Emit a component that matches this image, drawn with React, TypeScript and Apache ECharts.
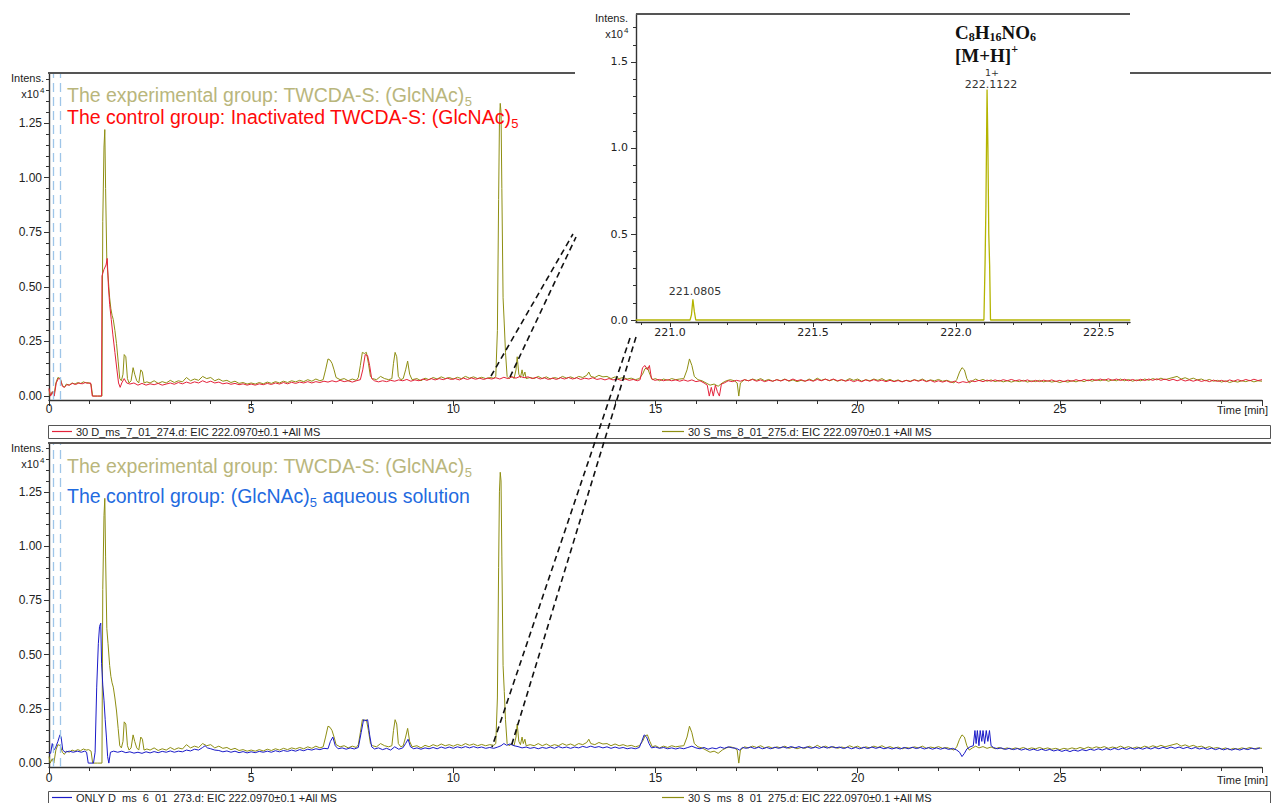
import React, { useEffect, useRef } from 'react';
import * as echarts from 'echarts';

// ---------------- data (intensities in units of 10^4) ----------------
// experimental group, 30 S_ms_8_01_275.d  [time min, intensity]
const EXP_S8: [number, number][] = [
  [0, 0.03], [0.03, 0], [0.08, 0.02], [0.12, 0], [0.17, 0.06], [0.22, 0.085], [0.28, 0.08], [0.33, 0.05], [0.38, 0.04], [0.43, 0.055],
  [0.5, 0.05], [0.57, 0.06], [0.64, 0.055], [0.71, 0.062], [0.78, 0.057], [0.85, 0.065], [0.92, 0.06], [0.98, 0.062], [1.04, 0.055], [1.08, 0],
  [1.2, 0], [1.31, 0], [1.33, 0.8], [1.36, 1.14], [1.38, 1.22], [1.4, 0.95], [1.43, 0.62], [1.46, 0.55], [1.5, 0.45], [1.53, 0.4],
  [1.56, 0.37], [1.59, 0.35], [1.63, 0.3], [1.67, 0.24], [1.71, 0.16], [1.75, 0.08], [1.79, 0.07], [1.83, 0.1], [1.86, 0.19], [1.9, 0.18],
  [1.94, 0.08], [1.98, 0.06], [2.03, 0.07], [2.08, 0.13], [2.12, 0.1], [2.17, 0.07], [2.22, 0.06], [2.27, 0.12], [2.31, 0.11], [2.35, 0.06],
  [2.42, 0.065], [2.5, 0.06], [2.6, 0.07], [2.7, 0.058], [2.8, 0.066], [2.9, 0.06], [3.0, 0.072], [3.1, 0.062], [3.2, 0.07], [3.3, 0.065],
  [3.4, 0.085], [3.5, 0.07], [3.6, 0.078], [3.7, 0.072], [3.8, 0.09], [3.9, 0.08], [4.0, 0.085], [4.1, 0.07], [4.2, 0.078], [4.3, 0.068],
  [4.4, 0.072], [4.5, 0.062], [4.6, 0.068], [4.7, 0.058], [4.8, 0.062], [4.9, 0.055], [5.0, 0.06], [5.1, 0.055], [5.2, 0.062], [5.3, 0.056],
  [5.4, 0.064], [5.5, 0.058], [5.6, 0.066], [5.7, 0.06], [5.8, 0.068], [5.9, 0.062], [6.0, 0.07], [6.1, 0.065], [6.2, 0.072], [6.3, 0.066],
  [6.4, 0.075], [6.5, 0.068], [6.6, 0.078], [6.7, 0.07], [6.78, 0.075], [6.84, 0.12], [6.9, 0.17], [6.95, 0.165], [7.0, 0.15], [7.05, 0.12],
  [7.1, 0.085], [7.2, 0.075], [7.3, 0.08], [7.4, 0.07], [7.5, 0.078], [7.6, 0.072], [7.65, 0.085], [7.7, 0.14], [7.75, 0.2], [7.8, 0.195],
  [7.85, 0.2], [7.9, 0.15], [7.95, 0.09], [8.0, 0.08], [8.1, 0.075], [8.2, 0.09], [8.3, 0.08], [8.4, 0.075], [8.48, 0.08], [8.52, 0.15],
  [8.56, 0.2], [8.6, 0.18], [8.64, 0.09], [8.7, 0.075], [8.76, 0.08], [8.82, 0.12], [8.87, 0.16], [8.92, 0.1], [8.98, 0.075], [9.1, 0.08],
  [9.2, 0.07], [9.3, 0.082], [9.4, 0.075], [9.5, 0.085], [9.6, 0.078], [9.7, 0.088], [9.8, 0.08], [9.9, 0.085], [10.0, 0.078], [10.1, 0.086],
  [10.2, 0.08], [10.3, 0.09], [10.4, 0.082], [10.5, 0.088], [10.6, 0.08], [10.7, 0.086], [10.8, 0.08], [10.9, 0.085], [11.0, 0.082], [11.05, 0.09],
  [11.09, 0.3], [11.12, 0.9], [11.14, 1.25], [11.16, 1.34], [11.18, 1.3], [11.2, 0.95], [11.23, 0.45], [11.26, 0.33], [11.29, 0.2], [11.33, 0.09],
  [11.38, 0.08], [11.45, 0.09], [11.5, 0.08], [11.55, 0.12], [11.58, 0.18], [11.62, 0.1], [11.66, 0.085], [11.7, 0.12], [11.73, 0.09], [11.77, 0.11],
  [11.8, 0.08], [11.9, 0.085], [12.0, 0.08], [12.1, 0.09], [12.2, 0.08], [12.3, 0.088], [12.4, 0.078], [12.5, 0.085], [12.6, 0.08], [12.7, 0.09],
  [12.8, 0.082], [12.9, 0.088], [13.0, 0.08], [13.1, 0.09], [13.2, 0.085], [13.3, 0.095], [13.35, 0.11], [13.4, 0.09], [13.5, 0.085], [13.6, 0.095],
  [13.7, 0.088], [13.8, 0.09], [13.9, 0.08], [14.0, 0.088], [14.1, 0.08], [14.2, 0.085], [14.3, 0.078], [14.4, 0.082], [14.5, 0.075], [14.6, 0.08],
  [14.68, 0.1], [14.74, 0.125], [14.8, 0.13], [14.86, 0.1], [14.92, 0.075], [15.0, 0.08], [15.1, 0.07], [15.2, 0.078], [15.3, 0.072], [15.4, 0.08],
  [15.5, 0.075], [15.6, 0.078], [15.7, 0.08], [15.78, 0.12], [15.84, 0.17], [15.9, 0.14], [15.96, 0.09], [16.05, 0.075], [16.15, 0.07], [16.25, 0.06],
  [16.35, 0.05], [16.45, 0.055], [16.55, 0.045], [16.65, 0.06], [16.75, 0.07], [16.85, 0.075], [16.95, 0.07], [17.02, 0.06], [17.06, 0.0], [17.1, 0.06],
  [17.2, 0.075], [17.3, 0.07], [17.4, 0.078], [17.5, 0.072], [17.6, 0.08], [17.7, 0.07], [17.8, 0.076], [17.9, 0.068], [18.0, 0.075], [18.1, 0.07],
  [18.2, 0.078], [18.3, 0.068], [18.4, 0.074], [18.5, 0.066], [18.6, 0.072], [18.7, 0.068], [18.8, 0.078], [18.9, 0.07], [19.0, 0.082], [19.1, 0.072],
  [19.2, 0.078], [19.3, 0.07], [19.4, 0.076], [19.5, 0.068], [19.6, 0.074], [19.7, 0.07], [19.8, 0.08], [19.9, 0.072], [20.0, 0.078], [20.1, 0.068],
  [20.2, 0.075], [20.3, 0.07], [20.4, 0.078], [20.5, 0.072], [20.6, 0.08], [20.7, 0.07], [20.8, 0.076], [20.9, 0.068], [21.0, 0.074], [21.1, 0.066],
  [21.2, 0.072], [21.3, 0.068], [21.4, 0.075], [21.5, 0.07], [21.6, 0.078], [21.7, 0.068], [21.8, 0.074], [21.9, 0.07], [22.0, 0.076], [22.1, 0.068],
  [22.2, 0.072], [22.3, 0.066], [22.38, 0.06], [22.45, 0.075], [22.52, 0.11], [22.58, 0.13], [22.64, 0.12], [22.7, 0.08], [22.76, 0.06], [22.84, 0.07],
  [22.92, 0.078], [23.0, 0.07], [23.1, 0.076], [23.2, 0.068], [23.3, 0.074], [23.4, 0.066], [23.5, 0.072], [23.6, 0.065], [23.7, 0.07], [23.8, 0.064],
  [23.9, 0.07], [24.0, 0.066], [24.1, 0.072], [24.2, 0.064], [24.3, 0.07], [24.4, 0.066], [24.5, 0.072], [24.6, 0.065], [24.7, 0.07], [24.8, 0.064],
  [24.9, 0.068], [25.0, 0.062], [25.1, 0.068], [25.2, 0.064], [25.3, 0.07], [25.4, 0.065], [25.5, 0.072], [25.6, 0.066], [25.7, 0.074], [25.8, 0.068],
  [25.9, 0.075], [26.0, 0.07], [26.1, 0.076], [26.2, 0.068], [26.3, 0.074], [26.4, 0.07], [26.5, 0.078], [26.6, 0.07], [26.7, 0.076], [26.8, 0.068],
  [26.9, 0.074], [27.0, 0.07], [27.1, 0.078], [27.2, 0.072], [27.3, 0.08], [27.4, 0.074], [27.5, 0.082], [27.6, 0.075], [27.7, 0.08], [27.8, 0.085],
  [27.9, 0.09], [28.0, 0.078], [28.1, 0.084], [28.2, 0.076], [28.3, 0.082], [28.4, 0.074], [28.5, 0.078], [28.6, 0.07], [28.7, 0.076], [28.8, 0.068],
  [28.9, 0.072], [29.0, 0.064], [29.1, 0.07], [29.2, 0.062], [29.3, 0.068], [29.4, 0.064], [29.5, 0.07], [29.6, 0.066], [29.7, 0.072], [29.8, 0.065],
  [29.9, 0.07], [30.0, 0.068],
];

// control group (inactivated), 30 D_ms_7_01_274.d
const CTRL_D7: [number, number][] = [
  [0, 0.035], [0.04, 0.0], [0.09, 0.02], [0.13, 0], [0.18, 0.06], [0.23, 0.08], [0.28, 0.078], [0.33, 0.045], [0.38, 0.04], [0.44, 0.052],
  [0.5, 0.05], [0.58, 0.058], [0.66, 0.053], [0.74, 0.06], [0.82, 0.056], [0.9, 0.062], [0.97, 0.058], [1.03, 0.06], [1.07, 0], [1.2, 0],
  [1.3, 0], [1.31, 0.55], [1.36, 0.58], [1.41, 0.6], [1.44, 0.63], [1.47, 0.5], [1.5, 0.42], [1.54, 0.35], [1.58, 0.28], [1.63, 0.2],
  [1.68, 0.12], [1.72, 0.06], [1.76, 0.04], [1.8, 0.06], [1.86, 0.08], [1.92, 0.06], [2.0, 0.055], [2.1, 0.06], [2.2, 0.05], [2.3, 0.058],
  [2.4, 0.05], [2.5, 0.056], [2.6, 0.052], [2.7, 0.058], [2.8, 0.05], [2.9, 0.055], [3.0, 0.06], [3.1, 0.054], [3.2, 0.062], [3.3, 0.056],
  [3.4, 0.064], [3.5, 0.058], [3.6, 0.065], [3.7, 0.06], [3.8, 0.07], [3.9, 0.062], [4.0, 0.068], [4.1, 0.06], [4.2, 0.064], [4.3, 0.056],
  [4.4, 0.06], [4.5, 0.054], [4.6, 0.058], [4.7, 0.052], [4.8, 0.056], [4.9, 0.05], [5.0, 0.055], [5.1, 0.05], [5.2, 0.056], [5.3, 0.052],
  [5.4, 0.058], [5.5, 0.053], [5.6, 0.06], [5.7, 0.055], [5.8, 0.062], [5.9, 0.056], [6.0, 0.063], [6.1, 0.058], [6.2, 0.064], [6.3, 0.06],
  [6.4, 0.066], [6.5, 0.06], [6.6, 0.066], [6.7, 0.062], [6.8, 0.068], [6.9, 0.064], [7.0, 0.07], [7.1, 0.065], [7.2, 0.072], [7.3, 0.066],
  [7.4, 0.07], [7.5, 0.064], [7.6, 0.07], [7.7, 0.075], [7.76, 0.12], [7.82, 0.19], [7.88, 0.185], [7.93, 0.14], [7.98, 0.08], [8.05, 0.07],
  [8.15, 0.065], [8.25, 0.07], [8.35, 0.066], [8.45, 0.072], [8.55, 0.068], [8.65, 0.074], [8.75, 0.07], [8.85, 0.076], [8.95, 0.068], [9.05, 0.074],
  [9.15, 0.07], [9.25, 0.078], [9.35, 0.072], [9.45, 0.08], [9.55, 0.074], [9.65, 0.08], [9.75, 0.075], [9.85, 0.082], [9.95, 0.076], [10.05, 0.08],
  [10.15, 0.074], [10.25, 0.082], [10.35, 0.076], [10.45, 0.083], [10.55, 0.077], [10.65, 0.082], [10.75, 0.076], [10.85, 0.082], [10.95, 0.078], [11.05, 0.084],
  [11.15, 0.078], [11.25, 0.086], [11.35, 0.08], [11.45, 0.088], [11.55, 0.082], [11.65, 0.09], [11.75, 0.084], [11.85, 0.088], [11.95, 0.08], [12.05, 0.086],
  [12.15, 0.078], [12.25, 0.084], [12.35, 0.076], [12.45, 0.082], [12.55, 0.076], [12.65, 0.084], [12.75, 0.078], [12.85, 0.085], [12.95, 0.078], [13.05, 0.084],
  [13.15, 0.076], [13.25, 0.082], [13.35, 0.078], [13.45, 0.084], [13.55, 0.076], [13.65, 0.08], [13.75, 0.074], [13.85, 0.08], [13.95, 0.074], [14.05, 0.078],
  [14.15, 0.072], [14.25, 0.078], [14.35, 0.072], [14.45, 0.076], [14.55, 0.07], [14.62, 0.075], [14.68, 0.13], [14.74, 0.14], [14.8, 0.12], [14.85, 0.14],
  [14.9, 0.08], [14.98, 0.072], [15.1, 0.076], [15.2, 0.07], [15.3, 0.075], [15.4, 0.07], [15.5, 0.074], [15.6, 0.068], [15.7, 0.074], [15.8, 0.068],
  [15.9, 0.074], [16.0, 0.066], [16.1, 0.07], [16.2, 0.06], [16.28, 0.05], [16.33, 0.0], [16.38, 0.04], [16.43, 0.0], [16.48, 0.05], [16.53, 0.02],
  [16.58, 0.0], [16.63, 0.055], [16.7, 0.06], [16.8, 0.07], [16.9, 0.066], [17.0, 0.072], [17.1, 0.068], [17.2, 0.075], [17.3, 0.07], [17.4, 0.076],
  [17.5, 0.068], [17.6, 0.074], [17.7, 0.066], [17.8, 0.072], [17.9, 0.068], [18.0, 0.075], [18.1, 0.069], [18.2, 0.076], [18.3, 0.07], [18.4, 0.078],
  [18.5, 0.07], [18.6, 0.075], [18.7, 0.068], [18.8, 0.074], [18.9, 0.068], [19.0, 0.076], [19.1, 0.07], [19.2, 0.077], [19.3, 0.071], [19.4, 0.078],
  [19.5, 0.07], [19.6, 0.075], [19.7, 0.068], [19.8, 0.074], [19.9, 0.066], [20.0, 0.072], [20.1, 0.066], [20.2, 0.074], [20.3, 0.068], [20.4, 0.075],
  [20.5, 0.068], [20.6, 0.073], [20.7, 0.066], [20.8, 0.072], [20.9, 0.066], [21.0, 0.071], [21.1, 0.065], [21.2, 0.072], [21.3, 0.066], [21.4, 0.074],
  [21.5, 0.068], [21.6, 0.074], [21.7, 0.066], [21.8, 0.072], [21.9, 0.064], [22.0, 0.07], [22.1, 0.064], [22.2, 0.07], [22.3, 0.062], [22.4, 0.068],
  [22.5, 0.06], [22.6, 0.066], [22.7, 0.062], [22.8, 0.07], [22.9, 0.066], [23.0, 0.072], [23.1, 0.066], [23.2, 0.073], [23.3, 0.068], [23.4, 0.074],
  [23.5, 0.068], [23.6, 0.075], [23.7, 0.07], [23.8, 0.076], [23.9, 0.07], [24.0, 0.074], [24.1, 0.068], [24.2, 0.074], [24.3, 0.066], [24.4, 0.072],
  [24.5, 0.066], [24.6, 0.073], [24.7, 0.068], [24.8, 0.074], [24.9, 0.067], [25.0, 0.072], [25.1, 0.066], [25.2, 0.073], [25.3, 0.068], [25.4, 0.075],
  [25.5, 0.069], [25.6, 0.076], [25.7, 0.07], [25.8, 0.077], [25.9, 0.071], [26.0, 0.078], [26.1, 0.072], [26.2, 0.079], [26.3, 0.072], [26.4, 0.078],
  [26.5, 0.071], [26.6, 0.077], [26.7, 0.07], [26.8, 0.076], [26.9, 0.07], [27.0, 0.077], [27.1, 0.071], [27.2, 0.078], [27.3, 0.072], [27.4, 0.079],
  [27.5, 0.072], [27.6, 0.078], [27.7, 0.071], [27.8, 0.077], [27.9, 0.07], [28.0, 0.076], [28.1, 0.069], [28.2, 0.074], [28.3, 0.068], [28.4, 0.074],
  [28.5, 0.067], [28.6, 0.072], [28.7, 0.066], [28.8, 0.073], [28.9, 0.067], [29.0, 0.072], [29.1, 0.066], [29.2, 0.074], [29.3, 0.068], [29.4, 0.075],
  [29.5, 0.069], [29.6, 0.076], [29.7, 0.07], [29.8, 0.077], [29.9, 0.071], [30.0, 0.075],
];

// control group (aqueous solution), ONLY D_ms_6_01_273.d
const CTRL_D6: [number, number][] = [
  [0, 0.05], [0.04, 0.045], [0.08, 0.09], [0.12, 0.06], [0.16, 0.07], [0.22, 0.1], [0.27, 0.13], [0.3, 0.12], [0.34, 0.06], [0.4, 0.05],
  [0.5, 0.055], [0.6, 0.05], [0.7, 0.055], [0.8, 0.05], [0.88, 0.055], [0.93, 0.05], [0.97, 0.0], [1.1, 0.0], [1.14, 0.05], [1.18, 0.35],
  [1.22, 0.55], [1.25, 0.63], [1.28, 0.645], [1.3, 0.46], [1.33, 0.36], [1.36, 0.29], [1.39, 0.2], [1.42, 0.12], [1.45, 0.03], [1.48, 0.0],
  [1.52, 0.05], [1.6, 0.055], [1.7, 0.05], [1.8, 0.055], [1.9, 0.048], [2.0, 0.052], [2.1, 0.046], [2.2, 0.05], [2.3, 0.045], [2.4, 0.052],
  [2.5, 0.047], [2.6, 0.053], [2.7, 0.048], [2.8, 0.054], [2.9, 0.05], [3.0, 0.056], [3.1, 0.05], [3.2, 0.055], [3.3, 0.052], [3.4, 0.06],
  [3.5, 0.056], [3.6, 0.064], [3.7, 0.06], [3.8, 0.072], [3.86, 0.08], [3.92, 0.07], [4.0, 0.066], [4.1, 0.06], [4.2, 0.058], [4.3, 0.052],
  [4.4, 0.056], [4.5, 0.05], [4.6, 0.055], [4.7, 0.048], [4.8, 0.053], [4.9, 0.047], [5.0, 0.052], [5.1, 0.048], [5.2, 0.054], [5.3, 0.05],
  [5.4, 0.055], [5.5, 0.05], [5.6, 0.057], [5.7, 0.052], [5.8, 0.058], [5.9, 0.054], [6.0, 0.06], [6.1, 0.055], [6.2, 0.062], [6.3, 0.057],
  [6.4, 0.064], [6.5, 0.06], [6.6, 0.066], [6.7, 0.062], [6.8, 0.068], [6.9, 0.066], [6.96, 0.1], [7.02, 0.12], [7.08, 0.08], [7.15, 0.066],
  [7.25, 0.07], [7.35, 0.064], [7.45, 0.07], [7.55, 0.065], [7.65, 0.072], [7.72, 0.14], [7.78, 0.2], [7.84, 0.195], [7.88, 0.2], [7.93, 0.13],
  [7.98, 0.075], [8.05, 0.065], [8.15, 0.07], [8.25, 0.062], [8.35, 0.068], [8.45, 0.06], [8.55, 0.075], [8.65, 0.064], [8.75, 0.07], [8.82, 0.09],
  [8.88, 0.11], [8.94, 0.075], [9.02, 0.066], [9.1, 0.07], [9.2, 0.064], [9.3, 0.07], [9.4, 0.066], [9.5, 0.072], [9.6, 0.066], [9.7, 0.074],
  [9.8, 0.068], [9.9, 0.074], [10.0, 0.068], [10.1, 0.075], [10.2, 0.07], [10.3, 0.076], [10.4, 0.07], [10.5, 0.076], [10.6, 0.07], [10.7, 0.074],
  [10.8, 0.068], [10.9, 0.072], [11.0, 0.068], [11.1, 0.074], [11.18, 0.08], [11.25, 0.09], [11.32, 0.082], [11.4, 0.088], [11.5, 0.08], [11.6, 0.076],
  [11.7, 0.07], [11.8, 0.074], [11.9, 0.068], [12.0, 0.072], [12.1, 0.066], [12.2, 0.072], [12.3, 0.068], [12.4, 0.074], [12.5, 0.068], [12.6, 0.076],
  [12.7, 0.07], [12.8, 0.074], [12.9, 0.068], [13.0, 0.074], [13.1, 0.07], [13.2, 0.077], [13.3, 0.072], [13.4, 0.078], [13.5, 0.072], [13.6, 0.076],
  [13.7, 0.07], [13.8, 0.075], [13.9, 0.068], [14.0, 0.074], [14.1, 0.068], [14.2, 0.072], [14.3, 0.066], [14.4, 0.07], [14.5, 0.066], [14.6, 0.072],
  [14.66, 0.1], [14.72, 0.13], [14.78, 0.12], [14.84, 0.09], [14.9, 0.07], [15.0, 0.074], [15.1, 0.068], [15.2, 0.072], [15.3, 0.066], [15.4, 0.07],
  [15.5, 0.065], [15.6, 0.07], [15.7, 0.066], [15.8, 0.072], [15.9, 0.078], [16.0, 0.07], [16.1, 0.066], [16.2, 0.072], [16.3, 0.064], [16.4, 0.07],
  [16.5, 0.066], [16.6, 0.074], [16.7, 0.068], [16.8, 0.075], [16.9, 0.07], [17.0, 0.068], [17.08, 0.06], [17.15, 0.072], [17.25, 0.068], [17.35, 0.074],
  [17.45, 0.067], [17.55, 0.073], [17.65, 0.066], [17.75, 0.072], [17.85, 0.066], [17.95, 0.073], [18.05, 0.068], [18.15, 0.075], [18.25, 0.069], [18.35, 0.076],
  [18.45, 0.07], [18.55, 0.076], [18.65, 0.069], [18.75, 0.075], [18.85, 0.068], [18.95, 0.074], [19.05, 0.068], [19.15, 0.075], [19.25, 0.069], [19.35, 0.076],
  [19.45, 0.07], [19.55, 0.074], [19.65, 0.067], [19.75, 0.073], [19.85, 0.066], [19.95, 0.072], [20.05, 0.066], [20.15, 0.073], [20.25, 0.067], [20.35, 0.074],
  [20.45, 0.068], [20.55, 0.073], [20.65, 0.066], [20.75, 0.071], [20.85, 0.065], [20.95, 0.071], [21.05, 0.065], [21.15, 0.072], [21.25, 0.066], [21.35, 0.073],
  [21.45, 0.067], [21.55, 0.072], [21.65, 0.065], [21.75, 0.071], [21.85, 0.064], [21.95, 0.07], [22.05, 0.064], [22.15, 0.07], [22.25, 0.063], [22.35, 0.068],
  [22.45, 0.06], [22.52, 0.05], [22.58, 0.03], [22.64, 0.045], [22.7, 0.065], [22.78, 0.075], [22.86, 0.08], [22.9, 0.15], [22.93, 0.09], [22.96, 0.15],
  [23.0, 0.08], [23.03, 0.15], [23.07, 0.1], [23.1, 0.15], [23.14, 0.09], [23.18, 0.15], [23.22, 0.1], [23.26, 0.15], [23.3, 0.08], [23.36, 0.072],
  [23.45, 0.066], [23.55, 0.07], [23.65, 0.063], [23.75, 0.068], [23.85, 0.062], [23.95, 0.067], [24.05, 0.06], [24.15, 0.066], [24.25, 0.059], [24.35, 0.064],
  [24.45, 0.058], [24.55, 0.064], [24.65, 0.058], [24.75, 0.063], [24.85, 0.056], [24.95, 0.061], [25.05, 0.054], [25.15, 0.06], [25.25, 0.053], [25.35, 0.06],
  [25.45, 0.055], [25.55, 0.062], [25.65, 0.057], [25.75, 0.064], [25.85, 0.059], [25.95, 0.066], [26.05, 0.06], [26.15, 0.067], [26.25, 0.061], [26.35, 0.068],
  [26.45, 0.062], [26.55, 0.069], [26.65, 0.063], [26.75, 0.07], [26.85, 0.064], [26.95, 0.07], [27.05, 0.064], [27.15, 0.071], [27.25, 0.065], [27.35, 0.072],
  [27.45, 0.066], [27.55, 0.073], [27.65, 0.067], [27.75, 0.074], [27.85, 0.068], [27.95, 0.074], [28.05, 0.067], [28.15, 0.073], [28.25, 0.066], [28.35, 0.072],
  [28.45, 0.065], [28.55, 0.07], [28.65, 0.063], [28.75, 0.069], [28.85, 0.062], [28.95, 0.068], [29.05, 0.061], [29.15, 0.067], [29.25, 0.06], [29.35, 0.066],
  [29.45, 0.06], [29.55, 0.067], [29.65, 0.062], [29.75, 0.069], [29.85, 0.064], [29.95, 0.07],
];

// mass spectrum inset: [m/z, intensity x10^4]
const MS_PROFILE: [number, number][] = [
  [220.88, 0], [221.07, 0], [221.075, 0.03], [221.08, 0.12], [221.085, 0.05], [221.09, 0],
  [222.098, 0], [222.102, 0.33], [222.105, 0.66], [222.109, 1.34], [222.112, 1.0], [222.115, 0.5], [222.118, 0.32], [222.121, 0], [222.61, 0],
];
const MS_PEAK_LABELS = ['221.0805', '222.1122'];
const MS_CHARGE = '1+';

// tick definitions
const TIME_MAJOR = [0, 5, 10, 15, 20, 25, 30];
const TIME_LABELS = [0, 5, 10, 15, 20, 25];
const TIME_MINOR = [1, 2, 3, 4, 6, 7, 8, 9, 11, 12, 13, 14, 16, 17, 18, 19, 21, 22, 23, 24, 26, 27, 28, 29];
const INT_MAJOR = [0, 0.25, 0.5, 0.75, 1, 1.25];
const INT_MINOR = [0.05, 0.1, 0.15, 0.2, 0.3, 0.35, 0.4, 0.45, 0.55, 0.6, 0.65, 0.7, 0.8, 0.85, 0.9, 0.95, 1.05, 1.1, 1.15, 1.2, 1.3, 1.35, 1.4, 1.45];
const MZ_MAJOR = [221, 221.5, 222, 222.5];
const MZ_MINOR = [220.9, 221.1, 221.2, 221.3, 221.4, 221.6, 221.7, 221.8, 221.9, 222.1, 222.2, 222.3, 222.4, 222.6];
const MS_INT_MAJOR = [0, 0.5, 1, 1.5];
const MS_INT_MINOR = [0.1, 0.2, 0.3, 0.4, 0.6, 0.7, 0.8, 0.9, 1.1, 1.2, 1.3, 1.4, 1.6, 1.7];

const LEGEND_TOP = ['30 D_ms_7_01_274.d: EIC 222.0970±0.1 +All MS', '30 S_ms_8_01_275.d: EIC 222.0970±0.1 +All MS'];
const LEGEND_BOTTOM = ['ONLY D_ms_6_01_273.d: EIC 222.0970±0.1 +All MS', '30 S_ms_8_01_275.d: EIC 222.0970±0.1 +All MS'];

// ---------------- styles ----------------
const SANS = "'Liberation Sans', Arial, sans-serif";
const VERD = "'DejaVu Sans', Verdana, sans-serif";
const SERIF = "'Liberation Serif', 'Times New Roman', serif";
const C_OLIVE = '#8e8e12';
const C_RED = '#e3223a';
const C_BLUE = '#1a1ac8';
const C_MS = '#b4b400';
const C_AXIS = '#333';

function measure(str: string, font: string): number {
  const ctx = document.createElement('canvas').getContext('2d');
  if (!ctx) return str.length * 9;
  ctx.font = font;
  return ctx.measureText(str).width;
}

function majorMinorAxes(grid: number, min: number, max: number, major: number[], labels: number[],
  minor: number[], fmt: (v: number) => string, font: string, fontSize: number, labelMargin: number, majorLen: number, minorLen: number) {
  const base = {
    type: 'value', gridIndex: grid, min, max, splitLine: { show: false },
    axisLine: { onZero: false, lineStyle: { color: C_AXIS, width: 1.4 } },
  };
  return [
    {
      ...base,
      axisTick: { show: true, customValues: major, length: majorLen, lineStyle: { color: C_AXIS, width: 1 } },
      axisLabel: { show: true, customValues: labels, formatter: fmt, margin: labelMargin, fontSize, fontFamily: font, color: '#222' },
    },
    {
      ...base,
      axisLine: { show: false, onZero: false },
      axisTick: { show: true, customValues: minor, length: minorLen, lineStyle: { color: C_AXIS, width: 1 } },
      axisLabel: { show: false },
    },
  ];
}

function buildOption() {
  const fmt2 = (v: number) => v.toFixed(2);
  const fmt0 = (v: number) => String(Math.round(v));
  const fmt1 = (v: number) => v.toFixed(1);

  const xAxis = [
    ...majorMinorAxes(0, 0, 30, TIME_MAJOR, TIME_LABELS, TIME_MINOR, fmt0, SANS, 12, 3, 6, 4),
    ...majorMinorAxes(1, 0, 30, TIME_MAJOR, TIME_LABELS, TIME_MINOR, fmt0, SANS, 12, 5, 6, 4),
    ...majorMinorAxes(2, 220.881, 222.609, MZ_MAJOR, MZ_MAJOR, MZ_MINOR, fmt1, VERD, 11, 5, 5, 3),
  ];
  const yAxis = [
    ...majorMinorAxes(0, -0.018, 1.479, INT_MAJOR, INT_MAJOR, INT_MINOR, fmt2, SANS, 12, 7, 5, 3),
    ...majorMinorAxes(1, -0.018, 1.475, INT_MAJOR, INT_MAJOR, INT_MINOR, fmt2, SANS, 12, 7, 5, 3),
    ...majorMinorAxes(2, -0.0116, 1.779, MS_INT_MAJOR, MS_INT_MAJOR, MS_INT_MINOR, fmt1, VERD, 11, 8, 5, 3),
  ];

  const vline = {
    silent: true, symbol: ['none', 'none'], label: { show: false },
    lineStyle: { color: '#9ec5e8', type: [9, 5], width: 1.3 },
    data: [{ xAxis: 0.1 }, { xAxis: 0.27 }],
  };
  const lineSeries = (name: string, data: [number, number][], color: string, xi: number, yi: number, extra: any = {}) => ({
    name, type: 'line', data, xAxisIndex: xi, yAxisIndex: yi, showSymbol: false, symbol: 'none',
    lineStyle: { color, width: 1 }, itemStyle: { color }, clip: true, ...extra,
  });

  const series = [
    lineSeries('30 S_ms_8_01_275.d (top)', EXP_S8, C_OLIVE, 0, 0, { markLine: vline }),
    lineSeries('30 D_ms_7_01_274.d', CTRL_D7, C_RED, 0, 0),
    lineSeries('30 S_ms_8_01_275.d (bottom)', EXP_S8, C_OLIVE, 2, 2, { markLine: vline }),
    lineSeries('ONLY D_ms_6_01_273.d', CTRL_D6, C_BLUE, 2, 2),
    lineSeries('MS spectrum', MS_PROFILE, C_MS, 4, 4, { lineStyle: { color: C_MS, width: 1.3 } }),
  ];

  // ---------- graphic overlays ----------
  const g: any[] = [];
  const text = (x: number, y: number, t: string, o: any = {}) => g.push({
    type: 'text', x, y, silent: true, z: 100,
    style: { text: t, fill: o.fill || '#222', fontSize: o.size || 11, fontFamily: o.family || SANS, fontWeight: o.weight || 'normal',
      textAlign: o.align || 'left', textVerticalAlign: 'middle' },
  });
  const line = (x1: number, y1: number, x2: number, y2: number, stroke: string, width: number, dash?: number[]) => g.push({
    type: 'line', silent: true, z: 100, shape: { x1, y1, x2, y2 }, style: { stroke, lineWidth: width, lineDash: dash || null },
  });

  // frames
  line(48, 73, 575, 73, '#555', 2);
  line(1130, 73, 1271, 73, '#555', 2);
  line(48, 443, 1271, 443, '#555', 2);
  line(636, 14, 1130, 14, '#555', 2);

  // Intens labels
  const intens = (xr: number, y: number) => {
    text(xr, y, 'Intens.', { size: 11, align: 'right' });
    text(xr - 5, y + 16, 'x10', { size: 11, align: 'right' });
    text(xr - 4, y + 12, '4', { size: 8 });
  };
  intens(44, 78);
  intens(44, 448);
  intens(628, 18);

  // time axis title
  text(1268, 410, 'Time [min]', { align: 'right', size: 11 });
  text(1268, 780, 'Time [min]', { align: 'right', size: 11 });

  // group annotations with subscripts
  const AS = 19.5;
  const annot = (x: number, y: number, parts: { t: string; sub?: boolean }[], fill: string) => {
    let cx = x;
    parts.forEach((p) => {
      if (p.sub) {
        text(cx, y + 6, p.t, { size: 13, fill });
        cx += measure(p.t, `13px ${SANS}`);
      } else {
        text(cx, y, p.t, { size: AS, fill });
        cx += measure(p.t, `${AS}px ${SANS}`);
      }
    });
  };
  const C_EXPTXT = '#b9b67c';
  annot(67, 95, [{ t: 'The experimental group: TWCDA-S: (GlcNAc)' }, { t: '5', sub: true }], C_EXPTXT);
  annot(67, 117, [{ t: 'The control group: Inactivated TWCDA-S: (GlcNAc)' }, { t: '5', sub: true }], '#ff0a0a');
  annot(67, 466, [{ t: 'The experimental group: TWCDA-S: (GlcNAc)' }, { t: '5', sub: true }], C_EXPTXT);
  annot(67, 496, [{ t: 'The control group: (GlcNAc)' }, { t: '5', sub: true }, { t: ' aqueous solution' }], '#1f6be0');

  // formula in inset
  const fb = (s: number) => `bold ${s}px ${SERIF}`;
  const formula = (x: number, y: number, parts: { t: string; sub?: boolean; sup?: boolean }[]) => {
    let cx = x;
    parts.forEach((p) => {
      const size = p.sub || p.sup ? 12 : 19;
      const dy = p.sub ? 5 : p.sup ? -6 : 0;
      text(cx, y + dy, p.t, { size, family: SERIF, weight: 'bold', fill: '#111' });
      cx += measure(p.t, fb(size));
    });
  };
  formula(955, 32, [{ t: 'C' }, { t: '8', sub: true }, { t: 'H' }, { t: '16', sub: true }, { t: 'NO' }, { t: '6', sub: true }]);
  formula(955, 55, [{ t: '[M+H]' }, { t: '+', sup: true }]);

  // peak labels
  text(992, 72, MS_CHARGE, { size: 9.5, family: VERD, align: 'center', fill: '#333' });
  text(991, 84, MS_PEAK_LABELS[1], { size: 11, family: VERD, align: 'center', fill: '#333' });
  text(695, 291, MS_PEAK_LABELS[0], { size: 11, family: VERD, align: 'center', fill: '#333' });

  // legends
  const legendBox = (y: number, h: number, names: string[], colors: string[]) => {
    g.push({ type: 'rect', silent: true, z: 100, shape: { x: 48.5, y: y + 0.5, width: 1222, height: h },
      style: { fill: '#fff', stroke: '#555', lineWidth: 1 } });
    const cy = y + 6.5;
    line(52, cy, 72, cy, colors[0], 1.2);
    text(76, cy, names[0], { size: 11 });
    line(662, cy, 684, cy, colors[1], 1.2);
    text(688, cy, names[1], { size: 11 });
  };
  legendBox(425, 13, LEGEND_TOP, [C_RED, C_OLIVE]);
  legendBox(791, 16, LEGEND_BOTTOM, [C_BLUE, C_OLIVE]);

  // dashed connector lines
  const dash = [6, 4];
  line(491, 376, 573, 234, '#111', 1.6, dash);
  line(510, 377, 576, 237, '#111', 1.6, dash);
  line(630, 338, 492, 747, '#111', 1.6, dash);
  line(636, 337, 511, 747, '#111', 1.6, dash);

  return {
    animation: false,
    backgroundColor: '#fff',
    grid: [
      { left: 49, top: 73, width: 1213, height: 327, outerBoundsMode: 'none', containLabel: false },
      { left: 49, top: 443, width: 1213, height: 324, outerBoundsMode: 'none', containLabel: false },
      { left: 636, top: 14, width: 494, height: 308, outerBoundsMode: 'none', containLabel: false },
    ],
    xAxis: xAxis.map((a) => ({ ...a, position: 'bottom' })),
    yAxis: yAxis.map((a) => ({ ...a, position: 'left' })),
    series,
    graphic: g,
  };
}

export default function App() {
  const ref = useRef<HTMLDivElement>(null);
  useEffect(() => {
    document.body.style.margin = '0';
    const chart = echarts.init(ref.current as HTMLDivElement, null, { renderer: 'svg' });
    chart.setOption(buildOption() as any);
    return () => chart.dispose();
  }, []);
  return <div ref={ref} style={{ width: 1271, height: 803 }} />;
}
